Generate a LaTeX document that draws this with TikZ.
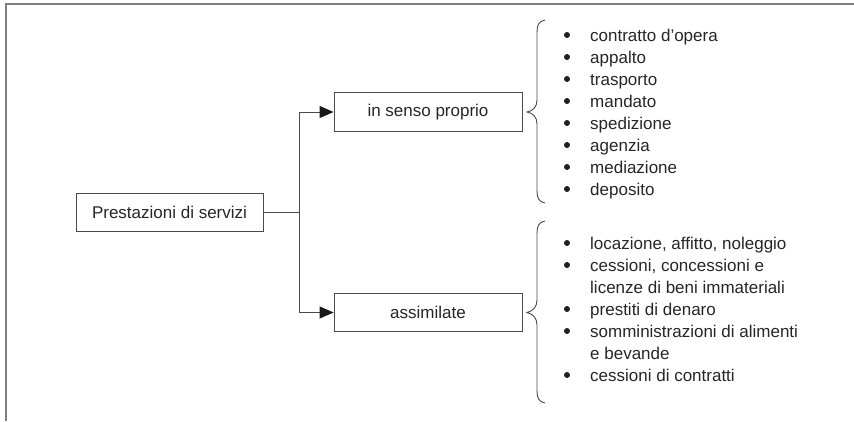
\documentclass[tikz,border=0pt]{standalone}
\usepackage{fontspec}
\setmainfont{Liberation Sans}
\usetikzlibrary{arrows.meta}
\definecolor{txt}{HTML}{262626}
\definecolor{ln}{HTML}{4A4A4A}
\definecolor{frm}{HTML}{808080}
\tikzset{
  boxnode/.style={draw=ln, line width=0.9pt, minimum height=38.5pt, text=txt,
    font=\fontsize{17}{22}\selectfont, inner sep=0pt},
  conn/.style={draw=ln, line width=0.9pt},
  arr/.style={conn, -{Triangle[length=14pt,width=12pt,color=black!90]}},
  listnode/.style={anchor=base west, inner sep=0pt, text=txt,
    font=\fontsize{17}{22}\selectfont},
  bracestyle/.style={draw=ln, line width=0.9pt},
  bulletdot/.style={fill=black!88}
}
\begin{document}
\begin{tikzpicture}[x=1pt,y=-1pt]
\useasboundingbox (0,0) rectangle (854,421);
% frame
\draw[frm, line width=2pt] (5.5,421) -- (5.5,4) -- (854,4);
% boxes
\node[boxnode, minimum width=187pt] (main) at (169.5,212.5) {Prestazioni di servizi};
\node[boxnode, minimum width=188pt] (top) at (428,112) {in senso proprio};
\node[boxnode, minimum width=188pt] (bot) at (428,312.5) {assimilate};
% connectors
\coordinate (j) at (299,212.5);
\draw[conn] (main.east) -- (j);
\draw[arr] (j) |- (top.west);
\draw[arr] (j) |- (bot.west);
% braces
\draw[bracestyle] (545,20) .. controls (539,21) and (537,25) .. (537,32) -- (537,100)
  .. controls (537,107) and (533,111) .. (527,112)
  .. controls (533,113) and (537,117) .. (537,124) -- (537,191)
  .. controls (537,198) and (539,202) .. (545,203);
\draw[bracestyle] (545,221) .. controls (539,222) and (537,226) .. (537,233) -- (537,300)
  .. controls (537,307) and (533,311) .. (527,312.5)
  .. controls (533,314) and (537,318) .. (537,325) -- (537,391)
  .. controls (537,398) and (539,402) .. (545,403);
% bullets
\foreach \k in {0,...,7} \fill[bulletdot] (567,{41+22*\k-6}) circle (3pt);
\foreach \k in {0,1,3,4,6} \fill[bulletdot] (567,{249+22*\k-6}) circle (3pt);
% lists
\node[listnode] (l1) at (590,41) {\begin{tabular}[t]{@{}l@{}}
contratto d’opera\\
appalto\\
trasporto\\
mandato\\
spedizione\\
agenzia\\
mediazione\\
deposito
\end{tabular}};
\node[listnode] (l2) at (590,249) {\begin{tabular}[t]{@{}l@{}}
locazione, affitto, noleggio\\
cessioni, concessioni e\\
licenze di beni immateriali\\
prestiti di denaro\\
somministrazioni di alimenti\\
e bevande\\
cessioni di contratti
\end{tabular}};
\end{tikzpicture}
\end{document}
